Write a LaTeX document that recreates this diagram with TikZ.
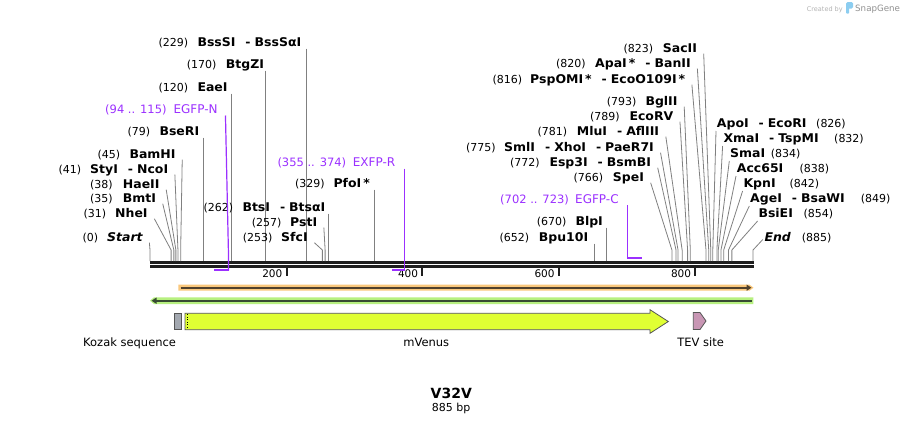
\documentclass[tikz,border=0pt]{standalone}
\usepackage{fontspec}
\setmainfont{DejaVu Sans}
\newfontfamily\namefam[FakeStretch=1.04]{DejaVu Sans}
\usetikzlibrary{arrows.meta}
\definecolor{cutgray}{RGB}{128,128,128}
\definecolor{primc}{RGB}{155,48,255}
\definecolor{bbone}{RGB}{30,30,30}
\definecolor{orfill}{RGB}{250,200,125}
\definecolor{orline}{RGB}{80,65,45}
\definecolor{grfill}{RGB}{183,240,128}
\definecolor{grline}{RGB}{55,75,50}
\definecolor{venus}{RGB}{224,255,51}
\definecolor{kozak}{RGB}{163,168,176}
\definecolor{tev}{RGB}{200,150,180}
\definecolor{featedge}{RGB}{85,85,85}
\definecolor{logogray}{RGB}{180,180,180}
\definecolor{logodark}{RGB}{145,145,145}
\definecolor{logoblue}{RGB}{140,205,240}
\tikzset{
  numlab/.style={inner sep=0pt, font=\fontsize{11}{13}\selectfont},
  ename/.style={inner sep=0pt, font=\namefam\bfseries\fontsize{12}{14}\selectfont},
  cutline/.style={draw=cutgray, line width=0.8pt},
  primnum/.style={inner sep=0pt, text=primc, font=\fontsize{11.5}{13}\selectfont},
  primname/.style={inner sep=0pt, text=primc, font=\fontsize{12}{14}\selectfont},
  primline/.style={draw=primc, line width=1.2pt},
  primbar/.style={draw=primc, line width=2pt},
  ticklab/.style={inner sep=0pt, font=\fontsize{10.5}{12}\selectfont},
  featlab/.style={inner sep=0pt, font=\fontsize{11.5}{13}\selectfont},
  featshape/.style={draw=featedge, line width=0.8pt},
}
\newcommand\zsep{\hspace{10pt}-\hspace{4pt}}
% left-labelled enzyme with slanted line: id, num, numx, name, namex, baseline, site
\newcommand\enzL[7]{%
  \node[numlab,anchor=base west] (m#1) at (#3,#6) {(#2)};
  \node[ename,anchor=base west] (n#1) at (#5,#6) {#4};
  \coordinate (s#1) at (#7,261);
  \draw[cutline] ([shift={(6.5pt,-1.2pt)}]n#1.base east) -- (s#1 |- lv) -- (s#1);}
% left-labelled enzyme with vertical line
\newcommand\enzV[7]{%
  \node[numlab,anchor=base west] (m#1) at (#3,#6) {(#2)};
  \node[ename,anchor=base west] (n#1) at (#5,#6) {#4};
  \coordinate (s#1) at (#7,261);
  \draw[cutline] ([yshift=-2pt]s#1 |- n#1.base) -- (s#1);}
% right-labelled enzyme: id, name, namex, num, numx, baseline, site
\newcommand\enzR[7]{%
  \node[ename,anchor=base west] (n#1) at (#3,#6) {#2};
  \node[numlab,anchor=base west] (m#1) at (#5,#6) {(#4)};
  \coordinate (s#1) at (#7,261);
  \draw[cutline] ([shift={(-0.7pt,-3.5pt)}]n#1.base west) -- (s#1 |- lv) -- (s#1);}
\begin{document}
\begin{tikzpicture}[x=1pt,y=-1pt]
\useasboundingbox (0,0) rectangle (904,424);
\fill[white] (0,0) rectangle (904,424);
\coordinate (lv) at (0,250);

% logo
\node[inner sep=0pt, text=logogray, font=\fontsize{6.5}{7}\selectfont, anchor=base west] (cb) at (806.7,11) {Created by};
\fill[logoblue, rounded corners=1.5pt] (846,2) rectangle (853,8.5);
\fill[logoblue, rounded corners=0.8pt] (846,5) rectangle (849.2,13.5);
\node[inner sep=0pt, text=logodark, font=\fontsize{8.7}{10}\selectfont, anchor=base west] (sg) at (855,11.5) {SnapGene};

% backbone
\fill[bbone] (150,261) rectangle (753.5,264.2);
\fill[bbone] (150,265.3) rectangle (753.5,268.3);
\foreach \v/\x in {200/286.5,400/422.3,600/558.8,800/695.3}{
  \fill[bbone] (\x-1,268) rectangle (\x+1,276);
  \node[ticklab, anchor=base east] (t\v) at (\x-4,277.5) {\v};
}

% enzymes, left group
\enzL{1}{0}{82.3}{\itshape Start}{107}{241.5}{150}
\enzL{2}{31}{83.3}{NheI}{115}{217.5}{171.1}
\enzL{3}{35}{90}{BmtI}{122.7}{202.5}{173.85}
\enzL{4}{38}{90}{HaeII}{122.7}{188.5}{175.89}
\enzL{5}{41}{58.3}{StyI\zsep NcoI}{90}{173.5}{177.94}
\enzL{6}{45}{97.3}{BamHI}{129.3}{158.5}{180.66}
\enzV{7}{79}{127.3}{BseRI}{159.3}{135.5}{203.83}
\enzV{8}{120}{158.3}{EaeI}{197.3}{91.5}{231.76}
\enzV{9}{170}{186.7}{BtgZI}{225.7}{68.5}{265.83}
\enzV{10}{229}{158.3}{BssSI\zsep BssSαI}{197.3}{46.5}{306.03}
\enzV{11}{262}{203.3}{BtsI\zsep BtsαI}{242.3}{211.5}{328.51}
\enzL{12}{257}{251.7}{PstI}{290}{226.5}{325.11}
\enzL{13}{253}{242.7}{SfcI}{281}{241.5}{322.38}
\enzV{14}{329}{295}{PfoI\,*}{333.3}{187.5}{374.16}
% right group
\enzV{15}{652}{499.3}{Bpu10I}{538.7}{241.5}{594.24}
\enzV{16}{670}{536.7}{BlpI}{575.3}{225.5}{606.51}
\enzL{17}{766}{573.3}{SpeI}{612.7}{181.5}{671.92}
\enzL{18}{772}{510}{Esp3I\zsep BsmBI}{549.3}{166.5}{676.0}
\enzL{19}{775}{466}{SmlI\zsep XhoI\zsep PaeR7I}{504}{151.5}{678.05}
\enzL{20}{781}{537.3}{MluI\zsep AflIII}{576.7}{135.5}{682.14}
\enzL{21}{789}{590}{EcoRV}{629.3}{120.5}{687.59}
\enzL{22}{793}{606.7}{BglII}{645.3}{105.5}{690.31}
\enzL{23}{816}{492.3}{PspOMI\,*\zsep EcoO109I\,*}{530}{83.5}{705.98}
\enzL{24}{820}{556}{ApaI\,*\zsep BanII}{595}{67.5}{708.71}
\enzL{25}{823}{623.3}{SacII}{662.7}{52.5}{710.75}
\enzR{26}{ApoI\zsep EcoRI}{716.7}{826}{816}{127.5}{712.80}
\enzR{27}{XmaI\zsep TspMI}{723.3}{832}{834}{142.5}{716.89}
\enzR{28}{SmaI}{730}{834}{770.7}{157.5}{718.25}
\enzR{29}{Acc65I}{736.7}{838}{799.3}{172.5}{720.97}
\enzR{30}{KpnI}{743.3}{842}{789.3}{187.5}{723.70}
\enzR{31}{AgeI\zsep BsaWI}{750}{849}{860.7}{202.5}{728.47}
\enzR{32}{BsiEI}{758.3}{854}{803.3}{217.5}{731.87}
\node[ename,anchor=base west] (n33) at (764.3,241.5) {\itshape End};
\node[numlab,anchor=base west] (m33) at (801.7,241.5) {(885)};
\coordinate (s33) at (753,261);
\draw[cutline] ([shift={(-1.5pt,2pt)}]n33.base west) -- (s33 |- lv) -- (s33);

% primers
\node[primnum,anchor=base west] (pn1) at (105,113.5) {(94 .. 115)};
\node[primname,anchor=base west] (pa1) at (173.3,113.5) {EGFP-N};
\coordinate (pe1) at (228.5,270.3);
\coordinate (pb1) at (214,270.3);
\draw[primline] ([shift={(7.7pt,-2pt)}]pa1.base east) -- (pe1 |- 0,255) -- (pe1);
\draw[primbar] ([xshift=0.6pt]pe1) -- (pb1);

\node[primnum,anchor=base west] (pn2) at (277.3,166.7) {(355 .. 374)};
\node[primname,anchor=base west] (pa2) at (352.7,166.7) {EXFP-R};
\coordinate (pe2) at (404.5,270.3);
\coordinate (pb2) at (391.5,270.3);
\draw[primline] ([yshift=-1.8pt]pe2 |- pa2.base) -- (pe2);
\draw[primbar] ([xshift=0.6pt]pe2) -- (pb2);

\node[primnum,anchor=base west] (pn3) at (500,203.3) {(702 .. 723)};
\node[primname,anchor=base west] (pa3) at (575,203.3) {EGFP-C};
\coordinate (pe3) at (627.5,257.5);
\coordinate (pb3) at (641.5,257.5);
\draw[primline] ([yshift=-2pt]pe3 |- pa3.base) -- (pe3);
\draw[primbar] ([xshift=-0.6pt]pe3) -- (pb3);

% ORF arrows
\fill[orfill] (178.3,284.7) -- (749.5,284.7) -- (753.5,287.7) -- (749.5,290.7) -- (178.3,290.7) -- cycle;
\draw[orline, line width=2pt, -{Triangle[length=5pt,width=6pt]}] (180.5,287.7) -- (751.5,287.7);
\fill[grfill] (150,300.7) -- (154,297.3) -- (753.3,297.3) -- (753.3,304) -- (154,304) -- cycle;
\draw[grline, line width=2pt, -{Triangle[length=5pt,width=6pt]}] (751.5,300.7) -- (151.5,300.7);

% features
\draw[featshape, fill=kozak] (174.6,313.3) rectangle (181.7,329.7);
\draw[featshape, fill=venus] (185,313.3) -- (650,313.3) -- (650,309.7) -- (668.3,321.5) -- (650,333.3) -- (650,329.7) -- (185,329.7) -- cycle;
\draw[black, dotted, line width=0.6pt] (186.8,314) -- (186.8,329);
\draw[featshape, fill=tev] (693.3,312.5) -- (700,312.5) -- (706,321) -- (700,329.5) -- (693.3,329.5) -- cycle;
\node[featlab, anchor=base west] (fk) at (83,346) {Kozak sequence};
\node[featlab, anchor=base] (fv) at (426.3,346) {mVenus};
\node[featlab, anchor=base] (ft) at (700.7,346) {TEV site};

% title
\node[inner sep=0pt, anchor=base, font=\bfseries\fontsize{14}{16}\selectfont] (title) at (451.3,398.3) {V32V};
\node[inner sep=0pt, anchor=base, font=\fontsize{11}{13}\selectfont] (len) at (451.2,411) {885 bp};
\end{tikzpicture}
\end{document}
